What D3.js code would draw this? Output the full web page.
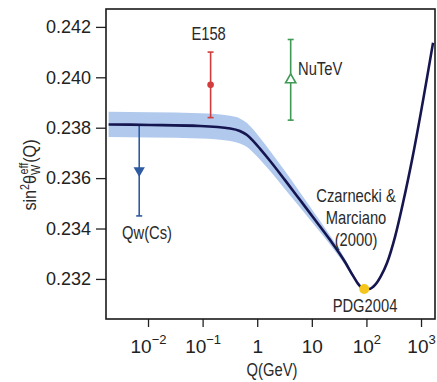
<!DOCTYPE html>
<html>
<head>
<meta charset="utf-8"/>
<script src="https://d3js.org/d3.v7.min.js"></script>
<style>
    body { margin: 0; background: #fff; }
    .tick line { stroke: #222; stroke-width: 1.3; }
    .tick text { fill: #222; font-family: "Liberation Sans", Arial, sans-serif; }
    .note { fill: #2a2a2a; font-family: "Liberation Sans", Arial, sans-serif; font-size: 18px; }
</style>
</head>
<body>
<svg width="437" height="382"></svg>
<script>
    // running weak mixing angle
    const curveQ = [0.0019, 0.011, 0.09, 0.32, 0.48, 0.65, 0.84, 1.13, 1.71, 3.2, 6.1, 11.5, 21.5, 40.6, 57, 73, 90.4, 112, 144, 185, 238, 334, 468, 684, 1660];
    const curveS = [0.23813, 0.23811, 0.23807, 0.23797, 0.23787, 0.23771, 0.23748, 0.23716, 0.23669, 0.23593, 0.23513, 0.23434, 0.23355, 0.23267, 0.23212, 0.23176, 0.23160, 0.23160, 0.23176, 0.23212, 0.23263, 0.23367, 0.23502, 0.23672, 0.24137];
    const curveErr = [0.0005, 0.0005, 0.0005, 0.0005, 0.0005, 0.00048, 0.00046, 0.00043, 0.0004, 0.00036, 0.0003, 0.00024, 0.00018, 0.00012, 0.00008, 0.00005, 0.00004, 0, 0, 0, 0, 0, 0, 0, 0];

    // measurements
    const expNames = ["Qw(Cs)", "E158", "NuTeV"];
    const expQ = [0.0069, 0.14, 4.1];
    const expS = [0.2363, 0.2397, 0.2399];
    const expErr = [0.0018, 0.0013, 0.0016];
    const expColor = ["#2d5aa0", "#d23c3c", "#3f9a55"];

    const pdgQ = 91.2, pdgS = 0.2316;

    const yTicks = [0.232, 0.234, 0.236, 0.238, 0.240, 0.242];
    const xTicks = [0.01, 0.1, 1, 10, 100, 1000];
    const xTickBase = ["10", "10", "1", "10", "10", "10"];
    const xTickExp = ["\u22122", "\u22121", "", "", "2", "3"];

    const mLeft = 106, mRight = 435, mTop = 9, mBottom = 319;
    const svg = d3.select("svg");

    const x = d3.scaleLog().domain([0.0017, 1803]).range([mLeft, mRight]);
    const y = d3.scaleLinear().domain([0.23041, 0.24271]).range([mBottom, mTop]);

    const curve = curveQ.map((q, i) => ({q: q, s: curveS[i], e: curveErr[i]}));

    // band
    svg.append("path")
        .attr("d", d3.area()
            .x(d => x(d.q))
            .y0(d => y(d.s - d.e))
            .y1(d => y(d.s + d.e))
            .curve(d3.curveMonotoneX)(curve))
        .attr("fill", "#a8c3eb")
        .attr("opacity", 0.9);

    // ejes
    svg.append("g")
        .attr("transform", "translate(" + mLeft + ",0)")
        .call(d3.axisLeft(y).tickValues(yTicks).tickSize(10).tickPadding(5).tickFormat(d3.format(".3f")))
        .call(g => g.select(".domain").remove())
        .selectAll("text").attr("font-size", 18);

    const xg = svg.append("g")
        .attr("transform", "translate(0," + mBottom + ")")
        .call(d3.axisBottom(x).tickValues(xTicks).tickSize(8).tickFormat(""))
        .call(g => g.select(".domain").remove());

    xg.selectAll(".tick").each(function (d, i) {
        const t = d3.select(this).append("text")
            .attr("y", 34)
            .attr("text-anchor", "middle")
            .attr("font-size", 19);
        t.append("tspan").text(xTickBase[i]);
        if (xTickExp[i]) {
            t.append("tspan").attr("dy", -9).attr("font-size", 13).text(xTickExp[i]);
        }
    });

    // frame
    svg.append("rect")
        .attr("x", mLeft).attr("y", mTop)
        .attr("width", mRight - mLeft).attr("height", mBottom - mTop)
        .attr("fill", "none").attr("stroke", "#1a1a1a").attr("stroke-width", 1.6);

    // error bars
    expNames.forEach(function (n, i) {
        const cx = x(expQ[i]);
        const g = svg.append("g").attr("stroke", expColor[i]).attr("stroke-width", 1.6);
        g.append("line").attr("x1", cx).attr("x2", cx)
            .attr("y1", y(expS[i] - expErr[i])).attr("y2", y(expS[i] + expErr[i]));
        [expS[i] - expErr[i], expS[i] + expErr[i]].forEach(v => {
            g.append("line").attr("x1", cx - 3).attr("x2", cx + 3)
                .attr("y1", y(v)).attr("y2", y(v));
        });
    });

    // line
    svg.append("path")
        .attr("d", d3.line().x(d => x(d.q)).y(d => y(d.s)).curve(d3.curveMonotoneX)(curve))
        .attr("fill", "none")
        .attr("stroke", "#15154f")
        .attr("stroke-width", 2.6);

    // markers
    svg.append("path")
        .attr("d", d3.symbol(d3.symbolTriangle, 55)())
        .attr("transform", "translate(" + x(expQ[0]) + "," + y(expS[0]) + ") rotate(180)")
        .attr("fill", expColor[0]);
    svg.append("circle")
        .attr("cx", x(expQ[1])).attr("cy", y(expS[1])).attr("r", 3.3)
        .attr("fill", expColor[1]);
    svg.append("path")
        .attr("d", d3.symbol(d3.symbolTriangle, 45)())
        .attr("transform", "translate(" + x(expQ[2]) + "," + y(expS[2]) + ")")
        .attr("fill", "#fff").attr("stroke", expColor[2]).attr("stroke-width", 1.6);
    svg.append("circle")
        .attr("cx", x(pdgQ)).attr("cy", y(pdgS)).attr("r", 5)
        .attr("fill", "#f4c61c");

    // labels (letra estrecha: se comprime en horizontal)
    const note = (tx, ty, s, anchor) => svg.append("g")
        .attr("transform", "translate(" + tx + "," + ty + ") scale(0.82,1)")
        .append("text").attr("class", "note")
        .attr("text-anchor", anchor || "middle").text(s);
    note(x(expQ[1]) - 2, 40, "E158");
    note(298, 75, "NuTeV", "start");
    note(147, 239, "Qw(Cs)");
    note(356, 202, "Czarnecki &");
    note(356, 224, "Marciano");
    note(356, 246, "(2000)");
    note(365, 312, "PDG2004");
    note(272, 376, "Q(GeV)").attr("font-size", 19);

    // y label
    const yl = svg.append("g")
        .attr("transform", "translate(36,175) rotate(-90) scale(0.9,1)")
        .append("text").attr("class", "note")
        .attr("text-anchor", "middle")
        .attr("font-size", 18);
    yl.append("tspan").text("sin");
    yl.append("tspan").attr("dy", -7).attr("font-size", 12).text("2");
    yl.append("tspan").attr("dy", 7).text("\u03b8");
    yl.append("tspan").attr("dy", 4).attr("font-size", 12).text("W");
    yl.append("tspan").attr("dx", -11).attr("dy", -12).attr("font-size", 12).text("eff");
    yl.append("tspan").attr("dy", 8).text("(Q)");
</script>
</body>
</html>
